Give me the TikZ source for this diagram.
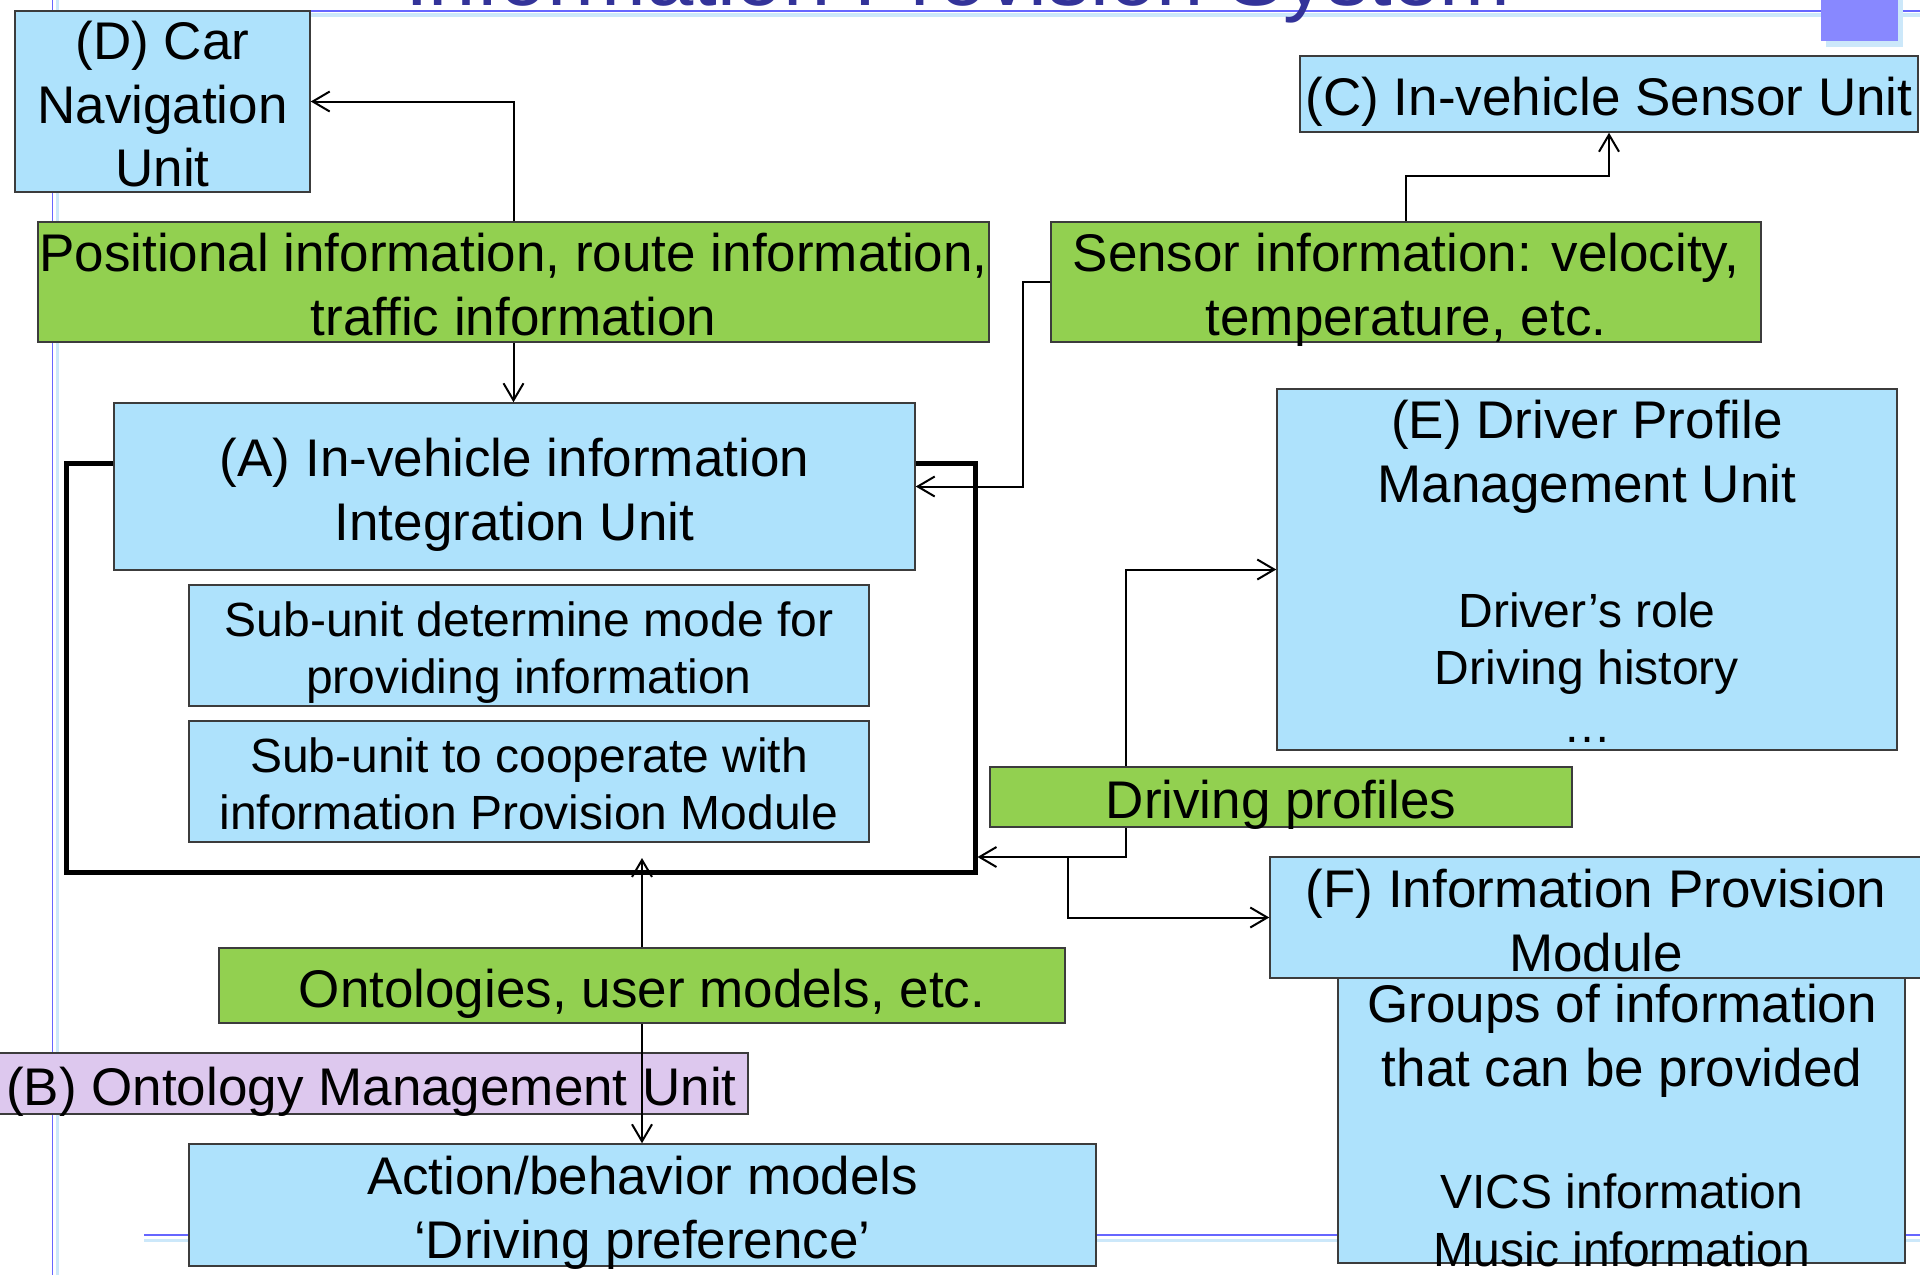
\documentclass[tikz,border=0pt]{standalone}
\usepackage{fontspec}
\setmainfont{Liberation Sans}
\usetikzlibrary{arrows.meta,calc}
\definecolor{boxblue}{HTML}{AEE2FC}
\definecolor{boxgreen}{HTML}{92D050}
\definecolor{boxpurple}{HTML}{DDC8EE}
\definecolor{boxline}{HTML}{3C3C3C}
\definecolor{deco}{HTML}{6666FF}
\definecolor{decolight}{HTML}{CCE8FA}
\definecolor{decosq}{HTML}{8888FF}
\definecolor{titleblue}{HTML}{333399}
\newcommand\topstrut{\rule{0pt}{1.03em}}
\newcommand\botstrut{\rule[-0.21em]{0pt}{0pt}}
\newcommand\strutted[1]{\topstrut#1\botstrut}
\newcommand\boxat[7]{\node[#2, minimum width={(#5-#3)*1bp}, minimum height={(#6-#4)*1bp}] (#1) at ({(#3+#5)/2},{(#4+#6)/2}) {\strutted{#7}};}
\begin{document}
\begin{tikzpicture}[x=1bp,y=-1bp,
  bigfont/.style={font=\fontsize{53bp}{63.6bp}\selectfont},
  smallfont/.style={font=\fontsize{48bp}{57.6bp}\selectfont},
  basebox/.style={draw=boxline, line width=1.5bp, inner xsep=0pt, inner ysep=-6bp, align=center},
  bluebox/.style={basebox, fill=boxblue},
  greenbox/.style={basebox, fill=boxgreen},
  purplebox/.style={basebox, fill=boxpurple},
  txt/.style={inner sep=0pt, align=center},
  conn/.style={line width=2bp, -{Straight Barb[length=17bp,width=20bp]}},
  outerframe/.style={draw=black, line width=5bp, inner sep=0pt}
]
\fill[white] (0,0) rectangle (1920,1275);
\useasboundingbox (0,0) rectangle (1920,1275);

% slide decoration
\draw[decolight, line width=3.5bp] (150,15) -- (1920,15);
\draw[deco, line width=2.5bp] (150,11) -- (1920,11);
\draw[decolight, line width=3bp] (57.5,0) -- (57.5,1275);
\draw[deco, line width=1.5bp] (52.5,0) -- (52.5,1275);
\draw[decolight, line width=3bp] (144,1240) -- (1920,1240);
\draw[deco, line width=2bp] (144,1235) -- (1920,1235);
\fill[decolight] (1826,-5) rectangle (1903,47);
\fill[decosq] (1821,-5) rectangle (1898,41);
\node[anchor=base, text=titleblue, inner sep=0pt, font=\fontsize{85bp}{100bp}\selectfont] (title) at (958,5) {Information Provision System};

% frame around A
\node[outerframe, minimum width=908bp, minimum height=409bp] (frame) at (521,667.5) {};

% boxes
\boxat{D}{bluebox,bigfont}{15}{11}{310}{192}{(D) Car\\Navigation\\Unit}
\boxat{C}{bluebox,bigfont}{1300}{56}{1918}{132}{(C) In-vehicle Sensor Unit}
\boxat{pos}{greenbox,bigfont}{38}{222}{989}{342}{Positional information, route information,\\traffic information}
\boxat{sens}{greenbox,bigfont}{1051}{222}{1761}{342}{Sensor information: velocity,\\temperature, etc.}
\boxat{A}{bluebox,bigfont}{114}{403}{915}{570}{(A) In-vehicle information\\Integration Unit}
\boxat{sub1}{bluebox,smallfont}{189}{585}{869}{706}{Sub-unit determine mode for\\providing information}
\boxat{sub2}{bluebox,smallfont}{189}{721}{869}{842}{Sub-unit to cooperate with\\information Provision Module}
\node[bluebox, minimum width=620bp, minimum height=361bp] (E) at (1587,569.5) {};
\node[txt,bigfont] (Etitle) at (1587,449) {\strutted{(E) Driver Profile\\Management Unit}};
\node[txt,smallfont] (Edetail) at (1587,665) {\strutted{Driver’s role\\Driving history\\…}};
\boxat{dp}{greenbox,bigfont}{990}{767}{1572}{827}{Driving profiles}
\node[bluebox, minimum width=567bp, minimum height=285bp] (G) at (1621.5,1120.5) {};
\node[txt,bigfont] (Gtitle) at (1622,1033) {\strutted{Groups of information\\that can be provided}};
\node[txt,smallfont] (Gdetail) at (1622,1218) {\strutted{VICS information\\Music information}};
\boxat{F}{bluebox,bigfont}{1270}{857}{1922}{978}{(F) Information Provision\\Module}
\boxat{ont}{greenbox,bigfont}{219}{948}{1065}{1023}{Ontologies, user models, etc.}
\boxat{B}{purplebox,bigfont}{-5}{1053}{748}{1114}{(B) Ontology Management Unit}
\boxat{act}{bluebox,bigfont}{189}{1144}{1096}{1266}{Action/behavior models\\‘Driving preference’}

% connectors
\coordinate (jx) at (1126,857);
\coordinate (jf) at (1068,857);
\coordinate (jt) at (642,858);
\draw[conn] (pos.north) |- (D.east);
\draw[conn] (pos.south) -- (pos.south |- A.north);
\draw[conn] (sens.north) -- ++(0,-45) -| (C.south);
\draw[conn] (sens.west) -- ++(-27,0) |- (A.east);
\draw[conn] (dp.north -| jx) |- (E.west);
\draw[conn] (dp.south -| jx) -- (jx) -- (frame.east |- jx);
\draw[conn] (jf) |- (F.west);
\draw[conn] (ont.north) -- (jt);
\draw[conn] (ont.south) -- (ont.south |- act.north);
\end{tikzpicture}
\end{document}
